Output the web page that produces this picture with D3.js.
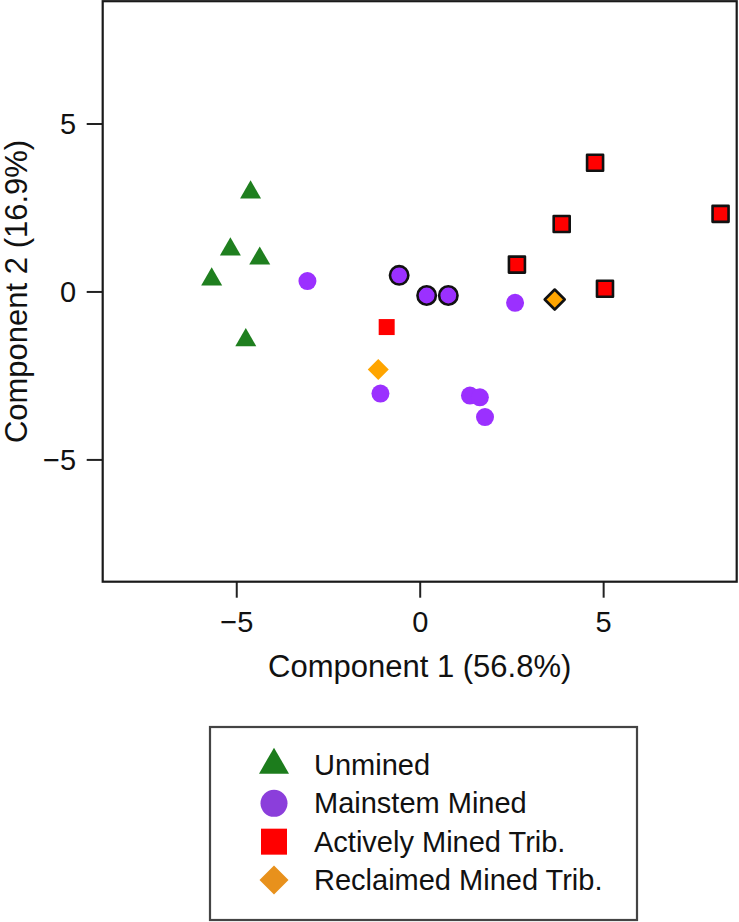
<!DOCTYPE html>
<html>
<head>
<meta charset="utf-8">
<script src="https://cdn.jsdelivr.net/npm/d3@7"></script>
<style>
  html, body { margin: 0; padding: 0; background: #fff; }
  svg { display: block; }
  text { font-family: "Liberation Sans", Arial, Helvetica, sans-serif; fill: #111; }
</style>
</head>
<body>
<script>
// ---------------- data ----------------
const categories = ["Unmined", "Mainstem Mined", "Actively Mined Trib.", "Reclaimed Mined Trib."];

const unminedX = [-4.61, -5.16, -4.36, -5.67, -4.74];
const unminedY = [2.95, 1.25, 0.98, 0.36, -1.45];
const unminedOutlined = [false, false, false, false, false];

const mainstemX = [-3.06, -0.56, 0.19, 0.78, 2.60, -1.07, 1.37, 1.64, 1.78];
const mainstemY = [0.31, 0.48, -0.12, -0.12, -0.34, -3.04, -3.10, -3.15, -3.74];
const mainstemOutlined = [false, true, true, true, false, false, false, false, false];

const activeX = [4.78, 3.87, 8.20, 2.65, 5.05, -0.90];
const activeY = [3.83, 2.01, 2.31, 0.80, 0.08, -1.06];
const activeOutlined = [true, true, true, true, true, false];

const reclaimedX = [3.68, -1.13];
const reclaimedY = [-0.24, -2.32];
const reclaimedOutlined = [true, false];

const xTicks = [-5, 0, 5];
const yTicks = [-5, 0, 5];
const xTitle = "Component 1 (56.8%)";
const yTitle = "Component 2 (16.9%)";

// ---------------- styles ----------------
const W = 739, H = 922;
const plotColors = ["#1f7f1f", "#9b30ff", "#ff0000", "#ffa500"];
const legendColors = ["#1c7c1c", "#8b3edb", "#ff0000", "#e8911c"];

// custom symbol types (size = half-extent in px)
const triType = { draw(ctx, s) { const h = s * Math.sqrt(3); ctx.moveTo(0, -2 * h / 3); ctx.lineTo(s, h / 3); ctx.lineTo(-s, h / 3); ctx.closePath(); } };
const circType = { draw(ctx, s) { ctx.moveTo(s, 0); ctx.arc(0, 0, s, 0, 2 * Math.PI); ctx.closePath(); } };
const sqType = { draw(ctx, s) { ctx.rect(-s, -s, 2 * s, 2 * s); } };
const diaType = { draw(ctx, s) { ctx.moveTo(0, -s); ctx.lineTo(s, 0); ctx.lineTo(0, s); ctx.lineTo(-s, 0); ctx.closePath(); } };
const types = [triType, circType, sqType, diaType];
const plotSizePlain = [10.5, 9, 8, 10.5];
const plotSizeOutlined = [10, 9.2, 8, 10];
const legendSizes = [15, 13.5, 13, 14.5];

const series = [
  { xs: unminedX, ys: unminedY, out: unminedOutlined },
  { xs: mainstemX, ys: mainstemY, out: mainstemOutlined },
  { xs: activeX, ys: activeY, out: activeOutlined },
  { xs: reclaimedX, ys: reclaimedY, out: reclaimedOutlined }
];

// ---------------- chart ----------------
const svg = d3.select("body").append("svg").attr("width", W).attr("height", H);

const plotL = 102.7, plotR = 736.7, plotT = 1.2, plotB = 581.7;
const x = d3.scaleLinear().domain([-8.64, 8.64]).range([plotL, plotR]);
const y = d3.scaleLinear().domain([-8.64, 8.64]).range([plotB, plotT]);

// x axis
const gx = svg.append("g").attr("transform", `translate(0,${plotB})`)
  .call(d3.axisBottom(x).tickValues(xTicks).tickSize(16));
gx.select(".domain").remove();
gx.selectAll(".tick line").attr("stroke", "#222").attr("stroke-width", 2);
gx.selectAll(".tick text").attr("y", 50).attr("dy", 0)
  .style("font-size", "29px").attr("fill", "#111");

// y axis
const gy = svg.append("g").attr("transform", `translate(${plotL},0)`)
  .call(d3.axisLeft(y).tickValues(yTicks).tickSize(16).tickPadding(10.5));
gy.select(".domain").remove();
gy.selectAll(".tick line").attr("stroke", "#222").attr("stroke-width", 2);
gy.selectAll(".tick text").attr("dy", "0.36em")
  .style("font-size", "29px").attr("fill", "#111");

// frame
svg.append("rect").attr("x", plotL).attr("y", plotT)
  .attr("width", plotR - plotL).attr("height", plotB - plotT)
  .attr("fill", "none").attr("stroke", "#1a1a1a").attr("stroke-width", 2.2);

// titles
svg.append("text").attr("x", (plotL + plotR) / 2).attr("y", 677)
  .attr("text-anchor", "middle").style("font-size", "31px").text(xTitle);
svg.append("text").attr("transform", `translate(27,${y(0)}) rotate(-90)`)
  .attr("text-anchor", "middle").style("font-size", "31px").text(yTitle);

// points
series.forEach((s, si) => {
  const pts = s.xs.map((v, i) => ({ x: v, y: s.ys[i], out: s.out[i] }));
  svg.append("g").selectAll("path").data(pts).join("path")
    .attr("transform", d => `translate(${x(d.x)},${y(d.y)})`)
    .attr("d", d => d3.symbol().type(types[si]).size(d.out ? plotSizeOutlined[si] : plotSizePlain[si])())
    .attr("fill", plotColors[si])
    .attr("stroke", d => d.out ? "#111" : "none")
    .attr("stroke-width", d => d.out ? 2.6 : 0)
    .attr("stroke-linejoin", "round");
});

// legend
const legX = 210, legY = 727, legW = 427, legH = 193;
svg.append("rect").attr("x", legX).attr("y", legY).attr("width", legW).attr("height", legH)
  .attr("fill", "#fff").attr("stroke", "#444").attr("stroke-width", 2.2);
const rowY = d3.scalePoint().domain(categories).range([765, 880]);
const lg = svg.append("g").selectAll("g").data(categories).join("g")
  .attr("transform", d => `translate(0,${rowY(d)})`);
lg.append("path")
  .attr("transform", "translate(274,0)")
  .attr("d", (d, i) => d3.symbol().type(types[i]).size(legendSizes[i])())
  .attr("fill", (d, i) => legendColors[i]);
lg.append("text").attr("x", 314).attr("dy", "0.35em")
  .style("font-size", "29px").text(d => d);
</script>
</body>
</html>
